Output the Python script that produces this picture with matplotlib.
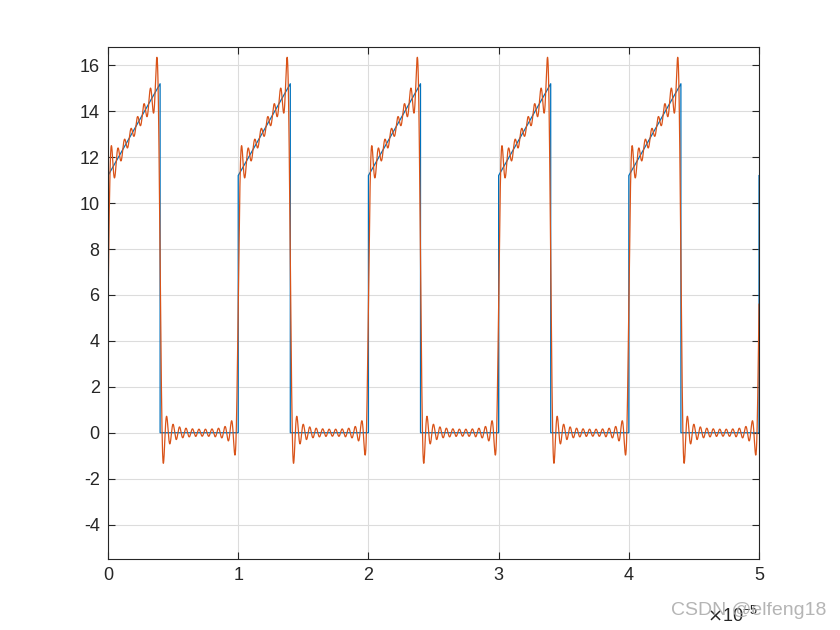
import numpy as np
import matplotlib.pyplot as plt

plt.rcParams['font.family'] = ['Liberation Sans', 'DejaVu Sans']

# one period of the pulse (time in units of the period, value)
period = 1e-5
n_periods = 5
pulse_t = [0.0, 0.4, 0.4, 1.0]
pulse_v = [11.2, 15.2, 0.0, 0.0]
n_harmonics = 20

xticks = [0, 1, 2, 3, 4, 5]
yticks = [-4, -2, 0, 2, 4, 6, 8, 10, 12, 14, 16]

# blue: the waveform itself, period after period
t_wave = []
v_wave = []
for k in range(n_periods):
    for tt, vv in zip(pulse_t, pulse_v):
        t_wave.append((k + tt) * period)
        v_wave.append(vv)
t_wave.append(n_periods * period)
v_wave.append(pulse_v[0])
t_wave = np.array(t_wave)
v_wave = np.array(v_wave)

# orange: truncated Fourier series of the same waveform
tf = np.linspace(0, 1, 20001)[:-1]
vf = np.interp(tf, pulse_t, pulse_v)
vf[tf >= pulse_t[2]] = 0.0
w0 = 2 * np.pi / period
a0 = vf.mean()
t_fs = np.linspace(0, n_periods * period, 20001)
v_fs = np.full_like(t_fs, a0)
for n in range(1, n_harmonics + 1):
    an = 2 * np.mean(vf * np.cos(2 * np.pi * n * tf))
    bn = 2 * np.mean(vf * np.sin(2 * np.pi * n * tf))
    v_fs += an * np.cos(n * w0 * t_fs) + bn * np.sin(n * w0 * t_fs)

fig = plt.figure(figsize=(8.4, 6.3), dpi=100)
ax = fig.add_axes([0.1286, 0.1127, 0.775, 0.8127])

ax.plot(t_wave, v_wave, color='#0072BD', linewidth=0.9)
ax.plot(t_fs, v_fs, color='#D95319', linewidth=0.9)

ax.set_xlim(0, n_periods * period)
ax.set_ylim(-5.5, 16.8)
ax.set_xticks([x * period for x in xticks])
ax.set_xticklabels([str(x) for x in xticks])
ax.set_yticks(yticks)
ax.set_yticklabels([str(y) for y in yticks])

ax.grid(True, color='#DCDCDC', linewidth=0.8)
ax.set_axisbelow(True)
ax.tick_params(direction='in', length=5, width=0.8, colors='#262626',
               labelsize=13, top=True, right=True, pad=6)
for s in ax.spines.values():
    s.set_color('#262626')
    s.set_linewidth(0.8)

fig.text(0.842, 0.006, r'$\times\mathregular{10}^{\mathregular{-5}}$', fontsize=13,
         color='#262626', ha='left', va='bottom')
fig.text(0.984, 0.031, 'CSDN @elfeng18', fontsize=14, color='#A8A8A8',
         alpha=0.85, ha='right', va='center')

fig.savefig('out.png', dpi=100)
